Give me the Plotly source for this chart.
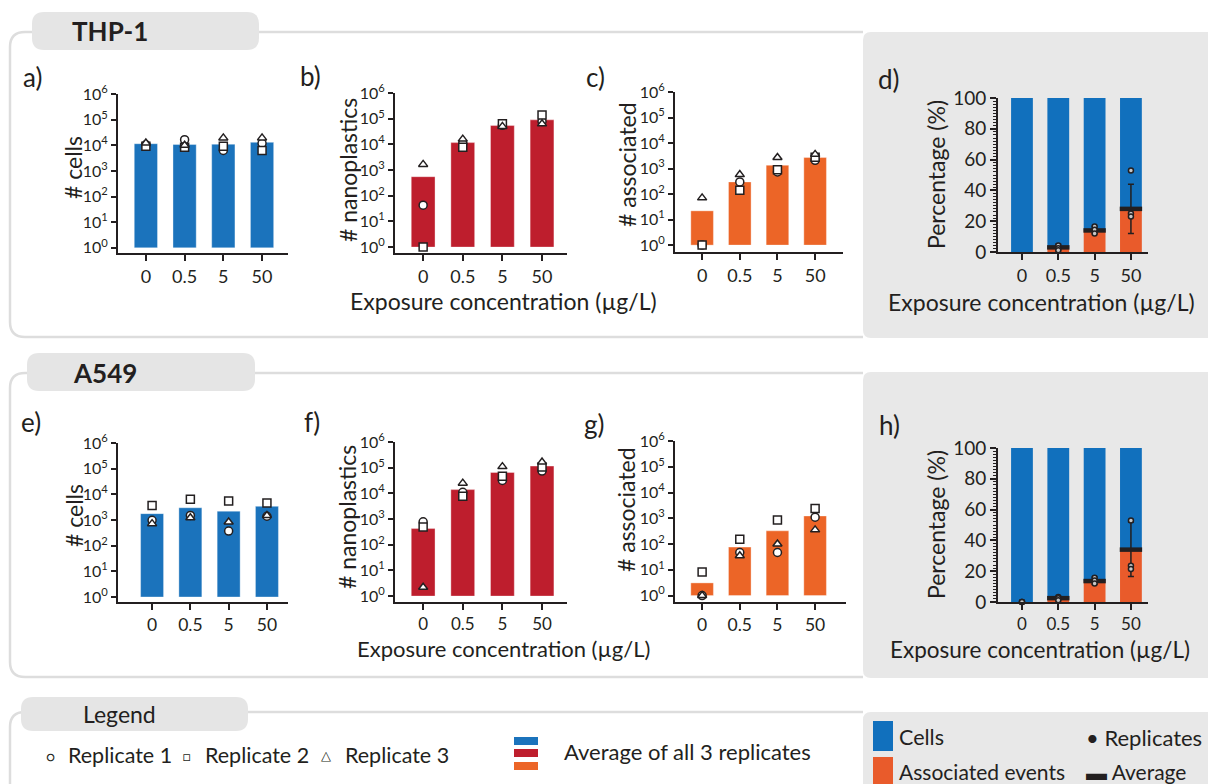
import plotly.graph_objects as go

W, H = 1208, 784
FONT = "Lato, 'Open Sans', sans-serif"
INK = "#231f20"
BLUE = "#1b73bc"
RED = "#be1e2d"
ORANGE = "#ec6527"
BLUE2 = "#1170bd"
ORANGE2 = "#e95b2b"
GRAYFILL = "#e8e8e8"
TABFILL = "#e5e5e5"
BORDER = "#dddddd"

conc = ["0", "0.5", "5", "50"]
log_tickvals = [1, 10, 100, 1000, 10000, 100000, 1000000]
log_ticktext = ["10<sup>0</sup>", "10<sup>1</sup>", "10<sup>2</sup>", "10<sup>3</sup>",
                "10<sup>4</sup>", "10<sup>5</sup>", "10<sup>6</sup>"]
pct_tickvals = [0, 20, 40, 60, 80, 100]

# ---- THP-1 ----
thp_cells_avg = [11500, 10700, 11000, 13000]
thp_cells_r1 = [10500, 16600, 6300, 12000]
thp_cells_r2 = [9100, 8300, 9100, 6300]
thp_cells_r3 = [12300, 10000, 19400, 19400]

thp_np_avg = [550, 11700, 54000, 90000]
thp_np_r1 = [43, 11000, 55000, 77000]
thp_np_r2 = [1, 7700, 63000, 140000]
thp_np_r3 = [1660, 16000, 50000, 63000]

thp_as_avg = [22, 300, 1350, 2700]
thp_as_r1 = [1, 300, 740, 2100]
thp_as_r2 = [1, 140, 900, 2800]
thp_as_r3 = [71, 580, 2700, 3600]

thp_pct_avg = [0, 3, 14, 28]
thp_pct_err_up = [0, 2, 2.5, 16]
thp_pct_err_dn = [0, 2, 2, 16]
thp_pct_r1 = [None, 4.3, 16.5, 53]
thp_pct_r2 = [None, 2.5, 14.5, 25]
thp_pct_r3 = [None, 1.2, 12, 23]

# ---- A549 ----
a549_cells_avg = [1770, 3000, 2200, 3400]
a549_cells_r1 = [970, 1500, 370, 1400]
a549_cells_r2 = [3700, 6400, 5500, 4600]
a549_cells_r3 = [720, 1230, 830, 1500]

a549_np_avg = [425, 14000, 65000, 115000]
a549_np_r1 = [780, 11000, 32000, 74000]
a549_np_r2 = [490, 7700, 46000, 107000]
a549_np_r3 = [2.2, 25000, 110000, 165000]

a549_as_avg = [3.1, 76, 325, 1230]
a549_as_r1 = [1, 47, 47, 1100]
a549_as_r2 = [8.2, 155, 860, 2400]
a549_as_r3 = [1, 35, 100, 355]

a549_pct_avg = [0, 2.5, 13.6, 34]
a549_pct_err_up = [0, 1, 2.5, 18]
a549_pct_err_dn = [0, 1, 2, 17.5]
a549_pct_r1 = [0, 3.2, 15.8, 53]
a549_pct_r2 = [0, 2.5, 14, 23.5]
a549_pct_r3 = [0, 1.2, 12, 21.5]


def PX(x):
    return x / W


def PY(y):
    return 1 - y / H


fig = go.Figure()
layout = dict(
    width=W, height=H, margin=dict(l=0, r=0, t=0, b=0, autoexpand=False),
    paper_bgcolor="white", plot_bgcolor="rgba(0,0,0,0)",
    showlegend=False, barmode="overlay",
    font=dict(family=FONT, color=INK),
    shapes=[], annotations=[],
)

panels = [
    (1, (118, 288), (94, 253), (-0.72, 3.67), (-0.2, 6), "log", 18),
    (2, (395, 567), (93, 253), (-0.71, 3.63), (-0.23, 6), "log", 18),
    (3, (675, 843), (92, 252), (-0.72, 3.74), (-0.27, 6), "log", 18),
    (4, (998, 1148), (98, 252), (-0.66, 3.47), (0, 100), "pct", 18),
    (5, (118, 288), (443, 602), (-0.89, 3.55), (-0.195, 6), "log", 17.5),
    (6, (395, 567), (442, 602), (-0.71, 3.63), (-0.23, 6), "log", 17),
    (7, (675, 846), (441, 602), (-0.72, 3.82), (-0.25, 6), "log", 17.5),
    (8, (998, 1148), (448, 602), (-0.66, 3.47), (0, 100), "pct", 17),
]

for pid, xd, yd, xr, yr, kind, xfs in panels:
    sx = "" if pid == 1 else str(pid)
    xa = dict(domain=[PX(xd[0]), PX(xd[1])], anchor="y" + sx, range=list(xr),
              type="category", categoryorder="array", categoryarray=conc,
              showline=True, linecolor=INK, linewidth=2, ticks="outside",
              ticklen=6, tickwidth=1.5, tickcolor=INK, showgrid=False, zeroline=False,
              tickfont=dict(size=xfs, family=FONT, color=INK), fixedrange=True)
    if kind == "log":
        ya = dict(domain=[PY(yd[1]), PY(yd[0])], anchor="x" + sx, type="log",
                  range=list(yr), tickvals=log_tickvals, ticktext=log_ticktext,
                  showline=True, linecolor=INK, linewidth=2, ticks="outside",
                  ticklen=5, tickwidth=1.5, tickcolor=INK, showgrid=False, zeroline=False,
                  tickfont=dict(size=16, family=FONT, color=INK), fixedrange=True)
    else:
        ya = dict(domain=[PY(yd[1]), PY(yd[0])], anchor="x" + sx, range=list(yr),
                  tickvals=pct_tickvals, showline=True, linecolor=INK, linewidth=2,
                  ticks="outside", ticklen=6, tickwidth=1.5, tickcolor=INK,
                  showgrid=False, zeroline=False,
                  minor=dict(dtick=2, ticklen=3, tickwidth=1, tickcolor=INK, ticks="outside"),
                  tickfont=dict(size=19, family=FONT, color=INK), fixedrange=True)
    layout["xaxis" + sx] = xa
    layout["yaxis" + sx] = ya


def axn(pid):
    return ("x" if pid == 1 else "x%d" % pid), ("y" if pid == 1 else "y%d" % pid)


def add_log_panel(pid, avg, r1, r2, r3, color):
    xa, ya = axn(pid)
    fig.add_trace(go.Bar(x=conc, y=[v - 1 for v in avg], base=[1] * len(avg),
                         width=0.6, marker=dict(color=color, line=dict(color="rgba(255,255,255,0.35)", width=1)),
                         xaxis=xa, yaxis=ya))
    for vals, sym in ((r1, "circle"), (r2, "square"), (r3, "triangle-up")):
        fig.add_trace(go.Scatter(x=conc, y=vals, mode="markers", cliponaxis=False,
                                 marker=dict(symbol=sym, size=8, color="white",
                                             line=dict(color=INK, width=1.5)),
                                 xaxis=xa, yaxis=ya))


def add_pct_panel(pid, avg, eu, ed, r1, r2, r3):
    xa, ya = axn(pid)
    fig.add_trace(go.Bar(x=conc, y=[100 - a for a in avg], base=avg, width=0.6,
                         marker=dict(color=BLUE2, line=dict(width=0)), xaxis=xa, yaxis=ya))
    fig.add_trace(go.Bar(x=conc, y=avg, base=[0] * len(avg), width=0.6,
                         marker=dict(color=ORANGE2, line=dict(width=0)), xaxis=xa, yaxis=ya))
    fig.add_trace(go.Scatter(x=conc[1:], y=avg[1:], mode="markers", cliponaxis=False,
                             marker=dict(symbol="line-ew", size=16, line=dict(color=INK, width=4.5)),
                             error_y=dict(type="data", symmetric=False, array=eu[1:], arrayminus=ed[1:],
                                          color=INK, thickness=1.5, width=3),
                             xaxis=xa, yaxis=ya))
    for vals in (r1, r2, r3):
        fig.add_trace(go.Scatter(x=conc, y=vals, mode="markers", cliponaxis=False,
                                 marker=dict(symbol="circle", size=5, color="#c8c8c8",
                                             line=dict(color=INK, width=1.5)),
                                 xaxis=xa, yaxis=ya))


add_log_panel(1, thp_cells_avg, thp_cells_r1, thp_cells_r2, thp_cells_r3, BLUE)
add_log_panel(2, thp_np_avg, thp_np_r1, thp_np_r2, thp_np_r3, RED)
add_log_panel(3, thp_as_avg, thp_as_r1, thp_as_r2, thp_as_r3, ORANGE)
add_pct_panel(4, thp_pct_avg, thp_pct_err_up, thp_pct_err_dn, thp_pct_r1, thp_pct_r2, thp_pct_r3)
add_log_panel(5, a549_cells_avg, a549_cells_r1, a549_cells_r2, a549_cells_r3, BLUE)
add_log_panel(6, a549_np_avg, a549_np_r1, a549_np_r2, a549_np_r3, RED)
add_log_panel(7, a549_as_avg, a549_as_r1, a549_as_r2, a549_as_r3, ORANGE)
add_pct_panel(8, a549_pct_avg, a549_pct_err_up, a549_pct_err_dn, a549_pct_r1, a549_pct_r2, a549_pct_r3)


def pt(x, y):
    return "%.5f,%.5f" % (PX(x), PY(y))


def rrect(x0, y0, x1, y1, r, fill, line=None):
    p = ("M " + pt(x0 + r, y0) + " L " + pt(x1 - r, y0) + " Q " + pt(x1, y0) + " " + pt(x1, y0 + r) +
         " L " + pt(x1, y1 - r) + " Q " + pt(x1, y1) + " " + pt(x1 - r, y1) +
         " L " + pt(x0 + r, y1) + " Q " + pt(x0, y1) + " " + pt(x0, y1 - r) +
         " L " + pt(x0, y0 + r) + " Q " + pt(x0, y0) + " " + pt(x0 + r, y0) + " Z")
    return dict(type="path", path=p, xref="paper", yref="paper", fillcolor=fill,
                line=dict(width=0) if line is None else line, layer="below")


def box_border(top, bottom, r=15, right=863):
    p = "M " + pt(right, top) + " L " + pt(10 + r, top) + " Q " + pt(10, top) + " " + pt(10, top + r)
    if bottom is None:
        p += " L " + pt(10, H + 20)
    else:
        p += (" L " + pt(10, bottom - r) + " Q " + pt(10, bottom) + " " + pt(10 + r, bottom) +
              " L " + pt(right, bottom))
    return dict(type="path", path=p, xref="paper", yref="paper",
                line=dict(color=BORDER, width=2.5), layer="below")


def rect(x0, y0, x1, y1, fill):
    return dict(type="rect", xref="paper", yref="paper", x0=PX(x0), x1=PX(x1),
                y0=PY(y1), y1=PY(y0), fillcolor=fill, line=dict(width=0), layer="below")


shapes = layout["shapes"]
shapes.append(rrect(863, 32, 1218, 338, 8, GRAYFILL))
shapes.append(rrect(863, 372, 1218, 678, 8, GRAYFILL))
shapes.append(rrect(863, 712, 1218, 800, 8, GRAYFILL))
shapes.append(box_border(32, 337))
shapes.append(box_border(373, 677))
shapes.append(box_border(712, None))
shapes.append(rrect(32, 12, 259, 50, 12, TABFILL))
shapes.append(rrect(27, 353, 255, 391, 12, TABFILL))
shapes.append(rrect(21, 697, 248, 731, 12, TABFILL))
shapes.append(rect(514, 737, 538, 745, BLUE))
shapes.append(rect(514, 749, 538, 757, RED))
shapes.append(rect(514, 762, 538, 770, ORANGE))
shapes.append(rect(873, 721, 893, 751, BLUE2))
shapes.append(rect(873, 757, 893, 790, ORANGE2))


def ann(text, x, y, size, xanchor="center", angle=0, weight=None):
    d = dict(text=text, x=PX(x), y=PY(y), xref="paper", yref="paper", showarrow=False,
             xanchor=xanchor, yanchor="middle", textangle=angle,
             font=dict(size=size, family=FONT, color=INK))
    if weight:
        d["font"]["weight"] = weight
    layout["annotations"].append(d)


ann("THP-1", 110, 31, 26, weight="bold")
ann("A549", 105, 373, 26, weight="bold")
ann("Legend", 119, 714, 23)

for lab, x, y in (("a)", 32, 77), ("b)", 310, 76), ("c)", 595, 77), ("d)", 889, 79),
                  ("e)", 31, 422), ("f)", 312, 422), ("g)", 594, 424), ("h)", 889, 425)):
    ann(lab, x, y, 26)

for t, x, y in (("# cells", 73, 168), ("# nanoplastics", 348, 170), ("# associated", 627, 165),
                ("Percentage (%)", 936, 175),
                ("# cells", 74, 516), ("# nanoplastics", 347, 517), ("# associated", 626, 510),
                ("Percentage (%)", 936, 525)):
    ann(t, x, y, 23, angle=-90)

xt = "Exposure concentration (µg/L)"
ann(xt, 503, 301, 23)
ann(xt, 1041, 302, 23)
ann(xt, 503, 648, 22)
ann(xt, 1040, 649, 22.5)

ann("○", 50, 756, 14)
ann("Replicate 1", 66, 755, 21.5, xanchor="left")
ann("□", 187, 756, 13)
ann("Replicate 2", 203, 755, 21.5, xanchor="left")
ann("△", 326, 755, 13)
ann("Replicate 3", 343, 755, 21.5, xanchor="left")
ann("Average of all 3 replicates", 562, 751, 22, xanchor="left")
ann("Cells", 897, 737, 21.5, xanchor="left")
ann("Associated events", 897, 771, 21, xanchor="left")
ann("• Replicates", 1084, 737, 22, xanchor="left")
ann("▬ Average", 1084, 771, 21, xanchor="left")

fig.update_layout(**layout)
fig.write_html("out.html", config={"displayModeBar": False},
               post_script="document.body.style.margin='0px';document.body.style.padding='0px';")
